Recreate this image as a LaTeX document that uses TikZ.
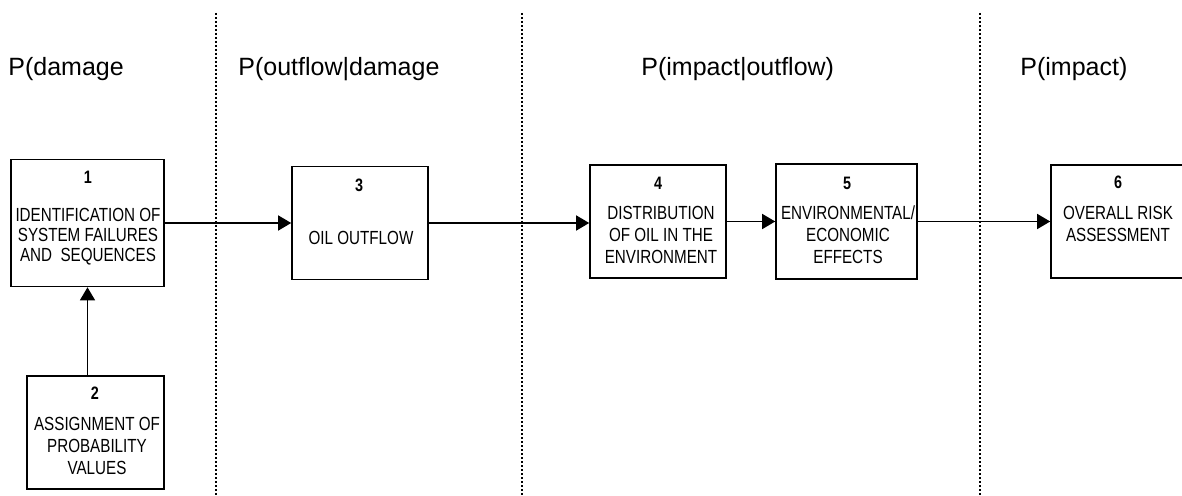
\documentclass[tikz,border=0pt]{standalone}
\usepackage{fontspec}
\setmainfont{Liberation Sans}
\newfontfamily\boxfont[FakeStretch=0.8]{Liberation Sans}
\usetikzlibrary{arrows.meta}
\tikzset{
 stage/.style={draw=black, line width=0.8pt, inner sep=0pt},
 num/.style={font=\boxfont\fontsize{9}{10}\selectfont\bfseries, inner sep=0pt},
 boxtext/.style={font=\boxfont\fontsize{9.5}{11}\selectfont, align=center, inner sep=0pt},
 head/.style={font=\fontsize{12.5}{15}\selectfont, anchor=base west, inner sep=0pt},
 flow/.style={line width=0.7pt, -{Triangle[length=6.5pt,width=7.5pt]}},
 border/.style={line width=0.7pt, dash pattern=on 1pt off 1pt}
}

\begin{document}
\begin{tikzpicture}[x=0.5pt,y=-0.5pt]
\useasboundingbox (0,0) rectangle (1182,496);
\foreach \x in {216, 522, 980} {
 \draw[border] (\x,13) -- (\x,496);
}
\node[head] (h1) at (8,76) {P(damage};
\node[head] (h2) at (238,76) {P(outflow|damage};
\node[head] (h3) at (641,76) {P(impact|outflow)};
\node[head] (h4) at (1020,76) {P(impact)};

\node[stage, minimum width=76.5pt, minimum height=63.5pt] (b1) at (87.5,223) {};
\node[stage, minimum width=68.5pt, minimum height=56.5pt] (b2) at (95.5,432.5) {};
\node[stage, minimum width=68pt, minimum height=56.5pt] (b3) at (360,223) {};
\node[stage, minimum width=68pt, minimum height=56.5pt] (b4) at (658,221.5) {};
\node[stage, minimum width=70.5pt, minimum height=57.5pt] (b5) at (846.5,221.5) {};
\node[stage, minimum width=67pt, minimum height=56.5pt] (b6) at (1118,221.5) {};

\node[num] (n1) at (88,177) {1};
\node[num] (n2) at (95,393) {2};
\node[num] (n3) at (359,185) {3};
\node[num] (n4) at (658,183) {4};
\node[num] (n5) at (847,183) {5};
\node[num] (n6) at (1118,182) {6};

\node[boxtext, font=\boxfont\fontsize{9.5}{10}\selectfont] (t1) at (88,237) {IDENTIFICATION OF\\SYSTEM FAILURES\\AND\ \ SEQUENCES};
\node[boxtext] (t2) at (97,445.5) {ASSIGNMENT OF\\PROBABILITY\\VALUES};
\node[boxtext] (t3) at (361,238) {OIL OUTFLOW};
\node[boxtext] (t4) at (661,235) {DISTRIBUTION\\OF OIL IN THE\\ENVIRONMENT};
\node[boxtext] (t5) at (848,235) {ENVIRONMENTAL/\\ECONOMIC\\EFFECTS};
\node[boxtext] (t6) at (1118,224) {OVERALL RISK\\ASSESSMENT};

\draw[flow] (b1.east) -- (b1.east -| b3.west);
\draw[flow] (b1.south |- b2.north) -- (b1.south);
\draw[flow] (b3.east) -- (b3.east -| b4.west);
\draw[flow] (b4.east) -- (b5.west);
\draw[flow] (b5.east) -- (b6.west);
\end{tikzpicture}
\end{document}
